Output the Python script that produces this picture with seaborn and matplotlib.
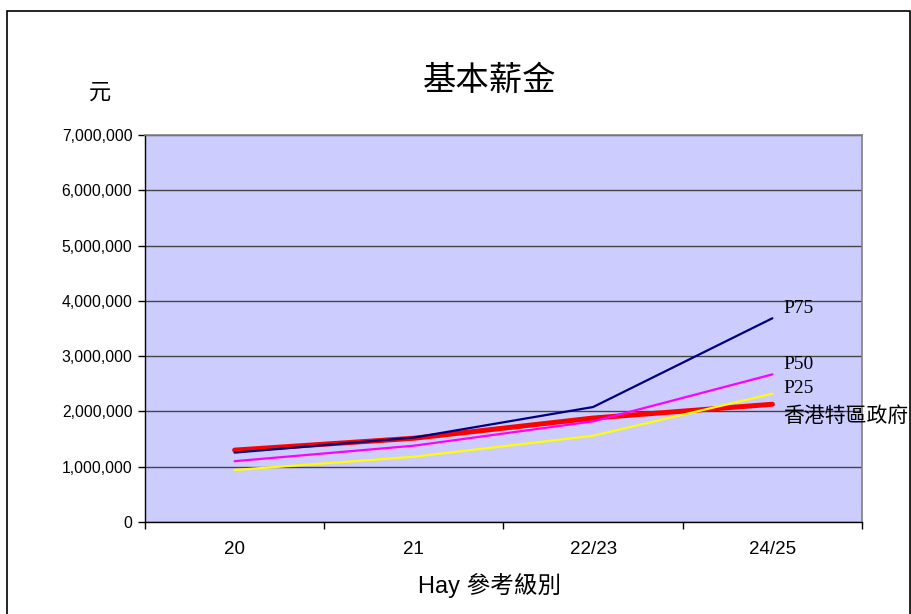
import matplotlib
matplotlib.use("Agg")
import matplotlib.pyplot as plt
import seaborn as sns
import pandas as pd
from matplotlib.ticker import FuncFormatter, FixedLocator
from matplotlib.patches import Rectangle

# ---- data ----
categories = ["20", "21", "22/23", "24/25"]
hksar = [1300000, 1515000, 1880000, 2130000]
p75 = [1255000, 1527000, 2080000, 3685000]
p50 = [1100000, 1380000, 1820000, 2670000]
p25 = [940000, 1180000, 1560000, 2320000]
series_names = ["香港特區政府", "P75", "P50", "P25"]
title = "基本薪金"
y_unit = "元"
x_label = "Hay 參考級別"
y_ticks = [0, 1000000, 2000000, 3000000, 4000000, 5000000, 6000000, 7000000]

rows = []
for name, vals in zip(series_names, [hksar, p75, p50, p25]):
    for c, v in zip(categories, vals):
        rows.append({"grade": c, "salary": v, "series": name})
df = pd.DataFrame(rows)

sns.set_theme(style="white")
plt.rcParams["font.family"] = ["Liberation Sans", "Noto Sans CJK TC", "DejaVu Sans"]
plt.rcParams["text.color"] = "black"
plt.rcParams["xtick.color"] = "black"
plt.rcParams["ytick.color"] = "black"
plt.rcParams["axes.labelcolor"] = "black"

fig = plt.figure(figsize=(9.12, 6.14), dpi=100)
ax = fig.add_axes([145 / 912, 1 - 522 / 614, (862 - 145) / 912, (522 - 135) / 614])
ax.set_facecolor("#CCCCFF")

styles = {
    "香港特區政府": dict(color="#FF0000", lw=3.6),
    "P75": dict(color="#000080", lw=1.6),
    "P50": dict(color="#FF00FF", lw=1.6),
    "P25": dict(color="#FFFF00", lw=1.6),
}
for name in series_names:
    sub = df[df["series"] == name]
    sns.lineplot(data=sub, x="grade", y="salary", ax=ax, color=styles[name]["color"],
                 linewidth=styles[name]["lw"], sort=False, legend=False, zorder=3)

ax.set_xlim(-0.5, len(categories) - 0.5)
ax.set_ylim(0, 7000000)
ax.set_yticks(y_ticks)
ax.yaxis.set_major_formatter(FuncFormatter(lambda v, p: f"{int(v):,}"))
ax.yaxis.grid(True, color="#444444", linewidth=1.0, zorder=1)
ax.xaxis.grid(False)
ax.set_axisbelow(True)

# x ticks between categories
ax.set_xticks(range(len(categories)))
ax.set_xticklabels(categories, fontsize=13.5, family=["Liberation Sans", "DejaVu Sans"])
ax.xaxis.set_minor_locator(FixedLocator([i - 0.5 for i in range(len(categories) + 1)]))
ax.tick_params(axis="x", which="major", length=0, pad=14)
ax.tick_params(axis="x", which="minor", length=5, width=1, color="black", direction="out", bottom=True)
ax.tick_params(axis="y", which="major", length=5, width=1, color="black", direction="out",
               left=True, labelsize=11.3, pad=4)

ax.set_xlabel("")
ax.set_ylabel("")
for s in ["left", "bottom"]:
    ax.spines[s].set_color("black")
    ax.spines[s].set_linewidth(1.0)
for s in ["top", "right"]:
    ax.spines[s].set_color("#808080")
    ax.spines[s].set_linewidth(1.2)

# series labels at line ends
offsets = {"P75": 10, "P50": 10, "P25": 5, "香港特區政府": -12}
ends = {"香港特區政府": hksar[-1], "P75": p75[-1], "P50": p50[-1], "P25": p25[-1]}
for name in series_names:
    fam = ["Liberation Serif", "Noto Sans CJK TC"] if name.startswith("P") else ["Noto Sans CJK TC"]
    fs = 14 if name.startswith("P") else 15
    ax.annotate(name, xy=(len(categories) - 1, ends[name]),
                xytext=(8, offsets[name] * 0.72), textcoords="offset points",
                ha="left", va="center", fontsize=fs, family=fam, color="black",
                annotation_clip=False)

fig.text(490 / 912, 1 - 80 / 614, title, ha="center", va="center", fontsize=24,
         family=["Noto Sans CJK TC"])
fig.text(100 / 912, 1 - 92 / 614, y_unit, ha="center", va="center", fontsize=16,
         family=["Noto Sans CJK TC"])
fig.text(490 / 912, 1 - 585 / 614, x_label, ha="center", va="center", fontsize=17,
         family=["Liberation Sans", "Noto Sans CJK TC"])

# outer chart border
fig.patches.append(Rectangle((7 / 912, -0.02), (910 - 7) / 912, 1 - 11 / 614 + 0.02,
                             transform=fig.transFigure, fill=False, edgecolor="black",
                             linewidth=1.2))

fig.savefig("out.png", dpi=100)
